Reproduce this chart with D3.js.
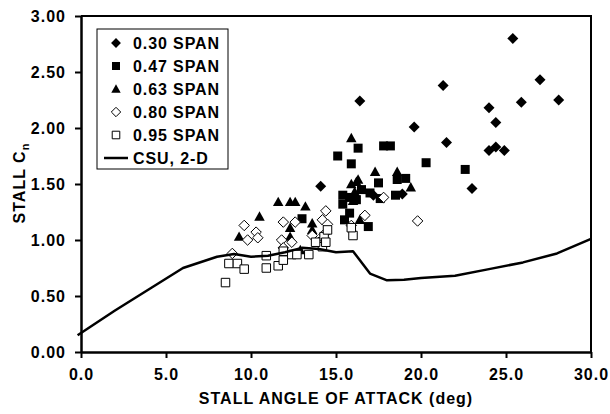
<!DOCTYPE html>
<html>
<head>
  <meta charset="utf-8">
  <title>Stall Cn</title>
  <style>
    body { margin: 0; background: #fff; }
    text { font-family: "Liberation Sans", Arial, sans-serif; font-weight: bold; fill: #000; }
  </style>
</head>
<body>
  <svg id="svg" width="610" height="414"></svg>

  <script src="https://d3js.org/d3.v7.min.js"></script>
  <script>
    // data: [angle (deg), Cn]
    const span030 = [[25.4, 2.80], [27.0, 2.43], [21.3, 2.38], [16.4, 2.24], [25.9, 2.23], [28.1, 2.25],
      [24.0, 2.18], [24.4, 2.05], [19.6, 2.01], [21.5, 1.87], [24.0, 1.80], [24.4, 1.83], [24.9, 1.80],
      [23.0, 1.46], [14.1, 1.48], [17.2, 1.40], [18.9, 1.41]];
    const span047 = [[15.1, 1.75], [16.3, 1.82], [15.9, 1.68], [17.8, 1.84], [18.2, 1.84], [20.3, 1.69],
      [22.6, 1.63], [17.5, 1.51], [18.6, 1.54], [19.1, 1.55], [15.4, 1.40], [15.4, 1.32], [15.8, 1.24],
      [16.9, 1.12], [17.0, 1.42], [18.5, 1.40], [13.0, 1.19], [15.8, 1.38], [16.2, 1.36], [15.5, 1.18],
      [16.5, 1.45], [17.6, 1.37]];
    const span063 = [[15.9, 1.91], [17.3, 1.61], [18.6, 1.61], [16.3, 1.54], [19.4, 1.47], [16.2, 1.52],
      [16.1, 1.43], [16.4, 1.18], [11.6, 1.34], [12.3, 1.34], [12.6, 1.34], [13.2, 1.30], [10.5, 1.21],
      [13.6, 1.15], [12.3, 1.11], [12.3, 1.03], [12.9, 0.91], [13.6, 1.09], [9.3, 1.03], [15.9, 1.50],
      [16.0, 1.35]];
    const span080 = [[9.6, 1.13], [10.3, 1.07], [9.8, 1.00], [8.9, 0.88], [10.4, 1.02], [11.9, 1.16],
      [12.6, 1.16], [14.4, 1.26], [14.2, 1.18], [14.5, 1.14], [11.8, 1.00], [11.9, 0.93], [13.6, 1.04],
      [14.0, 0.98], [16.7, 1.22], [17.8, 1.38], [19.8, 1.17], [15.9, 1.13], [12.4, 0.98], [14.3, 1.05]];
    const span095 = [[8.7, 0.79], [9.2, 0.79], [9.6, 0.74], [8.5, 0.62], [10.9, 0.86], [10.9, 0.75],
      [11.6, 0.77], [11.9, 0.82], [11.9, 0.90], [12.4, 0.87], [12.7, 0.87], [13.4, 0.87], [14.2, 0.94],
      [14.3, 1.03], [14.4, 0.98], [13.8, 0.98], [14.5, 1.09], [16.0, 1.04], [15.9, 1.11]];
    const csu2d = [[-0.2, 0.15], [2, 0.37], [4, 0.56], [6, 0.75], [8, 0.85], [9, 0.875], [10, 0.85],
      [11, 0.86], [12, 0.89], [13, 0.93], [14, 0.92], [15, 0.89], [16, 0.90], [17, 0.70], [18, 0.64],
      [19, 0.645], [20, 0.66], [22, 0.68], [24, 0.74], [26, 0.80], [28, 0.88], [30, 1.01]];

    const seriesNames = ["0.30 SPAN", "0.47 SPAN", "0.63 SPAN", "0.80 SPAN", "0.95 SPAN"];
    const lineName = "CSU, 2-D";
    const xTicks = [0, 5, 10, 15, 20, 25, 30];
    const yTicks = [0, 0.5, 1, 1.5, 2, 2.5, 3];

    const margin = { top: 16, right: 19, bottom: 62, left: 81 };
    const width = 610 - margin.left - margin.right;
    const height = 414 - margin.top - margin.bottom;

    // marker shapes
    const diamond = {
      draw(c, s) { const r = Math.sqrt(s) / 2; c.moveTo(0, -r); c.lineTo(r, 0); c.lineTo(0, r); c.lineTo(-r, 0); c.closePath(); }
    };
    const triangle = {
      draw(c, s) { const r = Math.sqrt(s) / 2; c.moveTo(0, -r); c.lineTo(r, r * 0.8); c.lineTo(-r, r * 0.8); c.closePath(); }
    };
    const shapes = [
      { type: diamond, size: 121, fill: "#000" },
      { type: d3.symbolSquare, size: 81, fill: "#000" },
      { type: triangle, size: 110, fill: "#000" },
      { type: diamond, size: 110, fill: "#fff" },
      { type: d3.symbolSquare, size: 72, fill: "#fff" }
    ];
    const seriesData = [span030, span047, span063, span080, span095];

    const svg = d3.select("#svg");
    const g = svg.append("g").attr("transform", `translate(${margin.left},${margin.top})`);

    const x = d3.scaleLinear().domain([0, 30]).range([0, width]);
    const y = d3.scaleLinear().domain([0, 3]).range([height, 0]);

    // frame top + right
    g.append("path")
      .attr("d", `M0,0H${width}V${height}`)
      .attr("fill", "none").attr("stroke", "#000").attr("stroke-width", 2);

    // markers
    seriesData.forEach((data, i) => {
      const sh = shapes[i];
      g.append("g").selectAll("path")
        .data(data)
        .join("path")
        .attr("transform", d => `translate(${x(d[0])},${y(d[1])})`)
        .attr("d", d3.symbol().type(sh.type).size(sh.size))
        .attr("fill", sh.fill)
        .attr("stroke", "#000")
        .attr("stroke-width", sh.fill === "#fff" ? 1 : 0);
    });

    // CSU line
    g.append("path")
      .datum(csu2d)
      .attr("fill", "none")
      .attr("stroke", "#000")
      .attr("stroke-width", 2.5)
      .attr("stroke-linejoin", "round")
      .attr("d", d3.line().x(d => x(d[0])).y(d => y(d[1])));

    // axes
    const xAxis = g.append("g")
      .attr("transform", `translate(0,${height})`)
      .call(d3.axisBottom(x).tickValues(xTicks).tickFormat(d3.format(".1f")).tickSize(6).tickSizeOuter(0).tickPadding(11));
    const yAxis = g.append("g")
      .call(d3.axisLeft(y).tickValues(yTicks).tickFormat(d3.format(".2f")).tickSize(6).tickSizeOuter(0).tickPadding(9));

    [xAxis, yAxis].forEach(a => {
      a.select(".domain").attr("stroke-width", 2.5);
      a.selectAll(".tick line").attr("stroke-width", 2);
      a.selectAll("text")
        .style("font-size", "16px")
        .style("letter-spacing", "1px")
        .attr("fill", "#000");
    });

    // axis titles
    svg.append("text")
      .attr("x", margin.left + width / 2)
      .attr("y", 404)
      .attr("text-anchor", "middle")
      .style("font-size", "16px")
      .style("letter-spacing", "1px")
      .text("STALL ANGLE OF ATTACK (deg)");

    const yTitle = svg.append("text")
      .attr("transform", "translate(25,183) rotate(-90)")
      .attr("text-anchor", "middle")
      .style("font-size", "16px")
      .style("letter-spacing", "1px");
    yTitle.append("tspan").text("STALL C");
    yTitle.append("tspan").attr("dy", 4).style("font-size", "11px").text("n");

    // legend
    const legend = svg.append("g").attr("transform", "translate(97,29)");
    legend.append("rect")
      .attr("width", 131).attr("height", 140)
      .attr("fill", "#fff").attr("stroke", "#000").attr("stroke-width", 1);

    const rowY = i => 14 + i * 23;
    seriesNames.forEach((name, i) => {
      const sh = shapes[i];
      legend.append("path")
        .attr("transform", `translate(19,${rowY(i)})`)
        .attr("d", d3.symbol().type(sh.type).size(sh.size * 0.8))
        .attr("fill", sh.fill)
        .attr("stroke", "#000")
        .attr("stroke-width", sh.fill === "#fff" ? 1 : 0);
      legend.append("text")
        .attr("x", 36).attr("y", rowY(i)).attr("dy", "0.36em")
        .style("font-size", "16px").style("letter-spacing", "0.9px")
        .text(name);
    });
    legend.append("line")
      .attr("x1", 7).attr("x2", 31).attr("y1", rowY(5)).attr("y2", rowY(5))
      .attr("stroke", "#000").attr("stroke-width", 2.5);
    legend.append("text")
      .attr("x", 36).attr("y", rowY(5)).attr("dy", "0.36em")
      .style("font-size", "16px").style("letter-spacing", "0.9px")
      .text(lineName);
  </script>
</body>
</html>
